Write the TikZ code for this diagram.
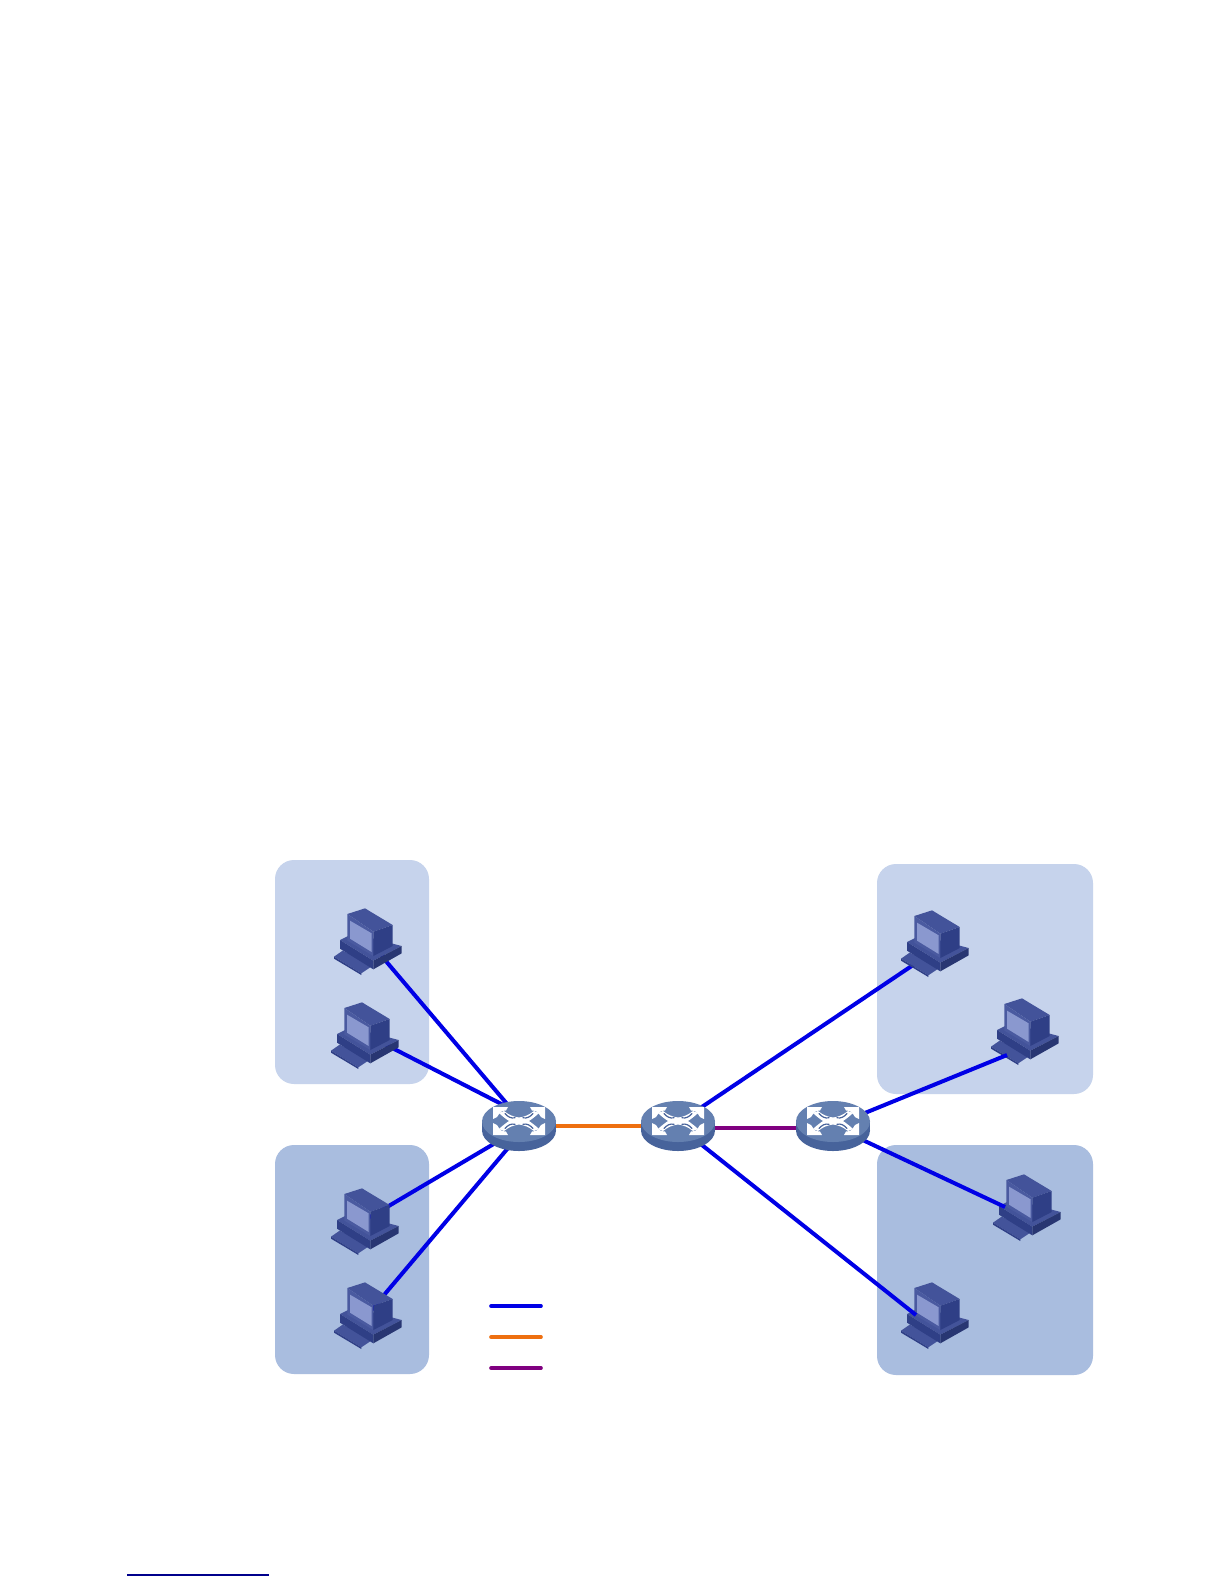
\documentclass[tikz,border=0pt]{standalone}
\usetikzlibrary{calc}
\definecolor{lanA}{HTML}{C6D3EC}
\definecolor{lanB}{HTML}{A9BDDF}
\definecolor{linkblue}{HTML}{0000E6}
\definecolor{linkorange}{HTML}{EE6F10}
\definecolor{linkpurple}{HTML}{800080}
\definecolor{swtop}{HTML}{6480B0}
\definecolor{swside}{HTML}{47639B}
\definecolor{swinner}{HTML}{4F6FA8}
\definecolor{pcdark}{HTML}{2F3F86}
\definecolor{pcmid}{HTML}{43539A}
\definecolor{pclight}{HTML}{4A5AA0}
\definecolor{pcscreen}{HTML}{8A98CF}
\tikzset{
  lanbox/.style={rounded corners=19pt,draw=none},
  bluelink/.style={linkblue,line width=4pt},
  orangelink/.style={linkorange,line width=4pt},
  purplelink/.style={linkpurple,line width=3.4pt},
  legendline/.style={line width=3.6pt,line cap=round},
  anchorpt/.style={inner sep=0pt,minimum size=0pt,outer sep=0pt},
  pc/.pic={
    \begin{scope}[scale=1/3,shift={(-144,-150)}]
      \fill[pcmid] (42,200) -- (68,182) -- (160,226) -- (124,250) -- cycle;
      \fill[pcdark] (42,200) -- (124,250) -- (124,255) -- (42,206) -- cycle;
      \fill[pcmid] (60,150) -- (100,130) -- (245,168) -- (160,212) -- cycle;
      \fill[pcdark] (60,150) -- (160,212) -- (160,238) -- (60,176) -- cycle;
      \fill[pcdark!85!black] (160,212) -- (245,168) -- (245,190) -- (160,238) -- cycle;
      \fill[pcmid] (82,72) -- (135,55) -- (218,105) -- (160,125) -- cycle;
      \fill[pclight] (82,72) -- (160,125) -- (160,198) -- (82,152) -- cycle;
      \fill[pcdark] (160,125) -- (218,105) -- (218,168) -- (160,198) -- cycle;
      \fill[pcscreen] (90,92) -- (155,130) -- (155,186) -- (90,146) -- cycle;
    \end{scope}
  },
  sw/.pic={
    \fill[swside] (0,4.5) ellipse[x radius=37,y radius=20.5];
    \fill[swside] (-37,-4.5) rectangle (37,4.5);
    \fill[swtop] (0,-4.5) ellipse[x radius=37,y radius=20.5];
    \begin{scope}[shift={(0,-5)}]
    \foreach \sx/\sy in {1/1,-1/1,1/-1,-1/-1}{
      \begin{scope}[xscale=\sx,yscale=\sy]
        \fill[white] (26,14) -- (11,14) -- (13,10.5) -- (17,10) -- (20,7)
          -- (22,4) -- (26,2) -- cycle;
        \fill[white] (0,0) -- (10,0) .. controls (13,2) and (17,5) .. (20,8)
          -- (15,10) .. controls (10,6) and (5,4) .. (0,3.5) -- cycle;
        \draw[swside,line width=1.2pt,line cap=round] (4,3.2) .. controls (8,2.5) and (11,4) .. (14,7.5);
      \end{scope}
    }
    \end{scope}
  }
}
\begin{document}
\begin{tikzpicture}[x=1pt,y=-1pt]
\useasboundingbox (0,0) rectangle (1224,1584);
\fill[white] (0,0) rectangle (1224,1584);
% regions
\fill[lanbox,lanA] (275,860) rectangle (429,1084);
\fill[lanbox,lanB] (275,1145) rectangle (429,1374);
\fill[lanbox,lanA] (877,864) rectangle (1093,1094);
\fill[lanbox,lanB] (877,1145) rectangle (1093,1375);
% device anchors
\node[anchorpt] (sw1) at (519,1126) {};
\node[anchorpt] (sw2) at (678,1126) {};
\node[anchorpt] (sw3) at (833,1126) {};
\node[anchorpt] (pc1) at (368,940) {};
\node[anchorpt] (pc2) at (365,1034) {};
\node[anchorpt] (pc3) at (365,1220) {};
\node[anchorpt] (pc4) at (368,1314) {};
\node[anchorpt] (pc5) at (935,942) {};
\node[anchorpt] (pc6) at (1025,1030) {};
\node[anchorpt] (pc7) at (1027,1206) {};
\node[anchorpt] (pc8) at (935,1314) {};
\coordinate (e5) at (925,957);
\coordinate (e6) at (1007,1055);
\coordinate (e7) at (1005,1207);
\coordinate (e8) at (916,1315);
% links behind the computers
\draw[bluelink] (pc1) -- ($(sw1)+(0,-8)$);
\draw[bluelink] (pc2) -- ($(sw1)+(0,-13)$);
\draw[bluelink] (pc3) -- ($(sw1)+(0,3)$);
\draw[bluelink] (pc4) -- ($(sw1)+(0,9)$);
\draw[bluelink] (e5) -- ($(sw2)+(0,-3)$);
% computers
\foreach \n in {1,...,8}{\pic at (pc\n) {pc};}
% links in front of the computers
\draw[bluelink] (e6) -- (sw3);
\draw[bluelink] (e7) -- (sw3);
\draw[bluelink] (e8) -- (sw2);
\draw[orangelink] (sw1) -- (sw2);
\draw[purplelink] ($(sw2)+(0,2)$) -- ($(sw3)+(0,2)$);
% switches
\foreach \n in {1,2,3}{\pic at (sw\n) {sw};}
% legend
\coordinate (la) at (491,1306); \coordinate (lb) at (541,1306);
\coordinate (lc) at (491,1337); \coordinate (ld) at (541,1337);
\coordinate (le) at (491,1368); \coordinate (lf) at (541,1368);
\draw[legendline,linkblue] (la) -- (lb);
\draw[legendline,linkorange] (lc) -- (ld);
\draw[legendline,linkpurple] (le) -- (lf);
% footnote rule
\coordinate (fa) at (127,1575); \coordinate (fb) at (269,1575);
\draw[color=blue!55!black,line width=1.2pt] (fa) -- (fb);
\end{tikzpicture}
\end{document}
